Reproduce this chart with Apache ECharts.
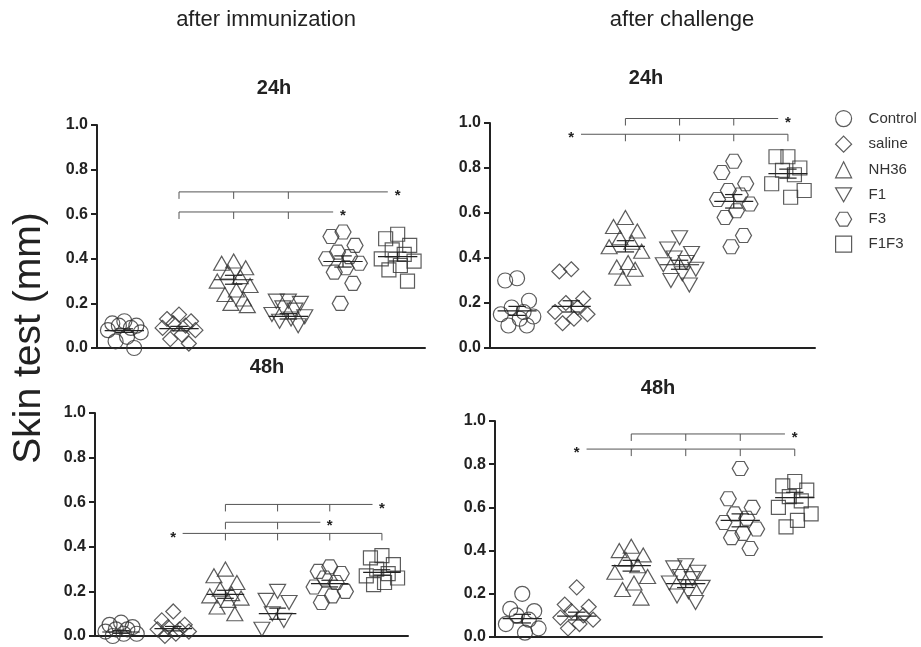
<!DOCTYPE html>
<html>
<head>
<meta charset="utf-8">
<script src="https://cdn.jsdelivr.net/npm/echarts@6/dist/echarts.min.js"></script>
<style>
  html, body { margin: 0; background: #fff; }
  #chart { width: 921px; height: 647px; }
</style>
</head>
<body>
<div id="chart"></div>
<script>
// groups (x categories)
const groups = ['Control', 'saline', 'NH36', 'F1', 'F3', 'F1F3']

// after immunization, 24h
const imm24Values = [
  [0.12, 0.11, 0.10, 0.10, 0.09, 0.08, 0.07, 0.05, 0.03, 0.00],
  [0.15, 0.13, 0.12, 0.11, 0.10, 0.09, 0.08, 0.06, 0.04, 0.02],
  [0.39, 0.38, 0.36, 0.34, 0.32, 0.30, 0.28, 0.26, 0.24, 0.22, 0.20, 0.19],
  [0.21, 0.21, 0.20, 0.18, 0.17, 0.15, 0.14, 0.13, 0.12, 0.10],
  [0.52, 0.50, 0.46, 0.43, 0.41, 0.40, 0.38, 0.36, 0.34, 0.29, 0.20],
  [0.51, 0.49, 0.46, 0.44, 0.42, 0.40, 0.39, 0.37, 0.35, 0.30]
]
const imm24Mean = [0.078, 0.087, 0.306, 0.142, 0.388, 0.41]
const imm24Sem = [0.008, 0.01, 0.02, 0.012, 0.025, 0.02]
// [level, star group, first tick group, last tick group]
const imm24Brackets = [[0.70, 5, 1, 3], [0.61, 4, 1, 3]]

// after challenge, 24h
const cha24Values = [
  [0.31, 0.30, 0.21, 0.18, 0.16, 0.15, 0.14, 0.13, 0.10, 0.10],
  [0.35, 0.34, 0.22, 0.20, 0.18, 0.16, 0.15, 0.13, 0.11],
  [0.58, 0.54, 0.52, 0.49, 0.47, 0.45, 0.43, 0.38, 0.36, 0.35, 0.31],
  [0.49, 0.44, 0.42, 0.40, 0.38, 0.37, 0.35, 0.33, 0.30, 0.28],
  [0.83, 0.78, 0.73, 0.70, 0.68, 0.66, 0.64, 0.61, 0.58, 0.50, 0.45],
  [0.85, 0.85, 0.80, 0.79, 0.77, 0.73, 0.70, 0.67]
]
const cha24Mean = [0.165, 0.185, 0.452, 0.37, 0.652, 0.775]
const cha24Sem = [0.02, 0.025, 0.025, 0.02, 0.03, 0.02]
const cha24Brackets = [[1.02, 5, 2, 4], [0.95, 1, 2, 5]]

// after immunization, 48h
const imm48Values = [
  [0.06, 0.05, 0.04, 0.03, 0.03, 0.02, 0.01, 0.01, 0.00],
  [0.11, 0.07, 0.05, 0.04, 0.03, 0.03, 0.02, 0.01, 0.00],
  [0.30, 0.27, 0.24, 0.21, 0.19, 0.18, 0.17, 0.16, 0.13, 0.10],
  [0.20, 0.16, 0.15, 0.10, 0.07, 0.03],
  [0.31, 0.29, 0.28, 0.26, 0.24, 0.22, 0.20, 0.18, 0.15],
  [0.36, 0.35, 0.32, 0.30, 0.28, 0.27, 0.26, 0.24, 0.23]
]
const imm48Mean = [0.018, 0.033, 0.187, 0.10, 0.235, 0.285]
const imm48Sem = [0.006, 0.01, 0.018, 0.025, 0.015, 0.012]
const imm48Brackets = [[0.59, 5, 2, 4], [0.51, 4, 2, 3], [0.46, 1, 2, 5]]

// after challenge, 48h
const cha48Values = [
  [0.20, 0.13, 0.12, 0.10, 0.08, 0.06, 0.04, 0.02],
  [0.23, 0.15, 0.14, 0.12, 0.10, 0.09, 0.08, 0.06, 0.04],
  [0.42, 0.40, 0.38, 0.36, 0.33, 0.30, 0.28, 0.25, 0.22, 0.18],
  [0.33, 0.32, 0.30, 0.28, 0.27, 0.25, 0.23, 0.21, 0.19, 0.16],
  [0.78, 0.64, 0.60, 0.57, 0.55, 0.53, 0.50, 0.48, 0.46, 0.41],
  [0.72, 0.70, 0.68, 0.65, 0.63, 0.60, 0.57, 0.54, 0.51]
]
const cha48Mean = [0.085, 0.097, 0.33, 0.247, 0.54, 0.645]
const cha48Sem = [0.02, 0.018, 0.025, 0.018, 0.03, 0.025]
const cha48Brackets = [[0.94, 5, 2, 4], [0.87, 1, 2, 5]]

const yTicks = [0, 0.2, 0.4, 0.6, 0.8, 1.0]

const FONT = '"Liberation Sans", Arial, Helvetica, sans-serif'
const INK = '#222'
const HEX = 'path://M25,0 L75,0 L100,43.3 L75,86.6 L25,86.6 L0,43.3 Z'
const DOWN = 'path://M0,0 L100,0 L50,86.6 Z'
const symbols = ['circle', 'diamond', 'triangle', DOWN, HEX, 'rect']
const symbolSizes = [15, 15, [16, 14], [16, 14], [16, 14], 14]
// horizontal spread of points inside a group (beeswarm-like)
const spread = [0, -0.22, 0.22, -0.1, 0.12, -0.3, 0.3, 0.05, -0.16, 0.18, -0.05, 0.25]

const panels = [
  { grid: { left: 97, top: 125, width: 328, height: 223 }, values: imm24Values, mean: imm24Mean, sem: imm24Sem, brackets: imm24Brackets },
  { grid: { left: 490, top: 123, width: 325, height: 225 }, values: cha24Values, mean: cha24Mean, sem: cha24Sem, brackets: cha24Brackets },
  { grid: { left: 95, top: 413, width: 313, height: 223 }, values: imm48Values, mean: imm48Mean, sem: imm48Sem, brackets: imm48Brackets },
  { grid: { left: 495, top: 421, width: 327, height: 216 }, values: cha48Values, mean: cha48Mean, sem: cha48Sem, brackets: cha48Brackets }
]

function renderMean(params, api) {
  const g = api.value(0), m = api.value(1), s = api.value(2)
  const a = api.coord([g - 0.36, m]), b = api.coord([g + 0.36, m])
  const top = api.coord([g, m + s]), bot = api.coord([g, m - s])
  const cl = api.coord([g - 0.16, m]), cr = api.coord([g + 0.16, m])
  const st = { stroke: INK, lineWidth: 1.2 }
  return {
    type: 'group',
    children: [
      { type: 'line', shape: { x1: a[0], y1: a[1], x2: b[0], y2: b[1] }, style: st },
      { type: 'line', shape: { x1: top[0], y1: top[1], x2: bot[0], y2: bot[1] }, style: st },
      { type: 'line', shape: { x1: cl[0], y1: top[1], x2: cr[0], y2: top[1] }, style: st },
      { type: 'line', shape: { x1: cl[0], y1: bot[1], x2: cr[0], y2: bot[1] }, style: st }
    ]
  }
}

function renderBracket(params, api) {
  const y = api.value(0), star = api.value(1), first = api.value(2), last = api.value(3)
  const from = star < first ? star + 0.18 : first
  const to = star > last ? star - 0.18 : last
  const p1 = api.coord([from, y]), p2 = api.coord([to, y])
  const st = { stroke: '#555', lineWidth: 1 }
  const children = [{ type: 'line', shape: { x1: p1[0], y1: p1[1], x2: p2[0], y2: p2[1] }, style: st }]
  for (let k = first; k <= last; k++) {
    const p = api.coord([k, y])
    children.push({ type: 'line', shape: { x1: p[0], y1: p[1], x2: p[0], y2: p[1] + 7 }, style: st })
  }
  const s = api.coord([star, y])
  children.push({
    type: 'text', x: s[0], y: s[1] + 4,
    style: { text: '*', font: 'bold 15px ' + FONT, fill: INK, align: 'center', verticalAlign: 'middle' }
  })
  return { type: 'group', children: children }
}

let grids = [], xAxes = [], yAxes = [], series = []
panels.forEach((p, i) => {
  grids.push(p.grid)
  xAxes.push({
    gridIndex: i, type: 'category', data: groups,
    axisLine: { onZero: false, lineStyle: { color: INK, width: 2 } },
    axisTick: { alignWithLabel: true, length: 6, lineStyle: { color: INK, width: 2 } },
    axisLabel: { show: false }
  })
  xAxes.push({ gridIndex: i, type: 'value', min: -0.5, max: 5.5, show: false })
  yAxes.push({
    gridIndex: i, type: 'value', min: yTicks[0], max: yTicks[yTicks.length - 1], interval: 0.2,
    axisLine: { show: true, onZero: false, lineStyle: { color: INK, width: 2 } },
    axisTick: { show: true, length: 6, lineStyle: { color: INK, width: 2 } },
    axisLabel: { formatter: v => v.toFixed(1), fontFamily: FONT, fontWeight: 'bold', fontSize: 16, color: INK, margin: 9 },
    splitLine: { show: false }
  })
  p.values.forEach((vals, g) => {
    series.push({
      name: groups[g], type: 'scatter', xAxisIndex: 2 * i + 1, yAxisIndex: i,
      symbol: symbols[g], symbolSize: symbolSizes[g],
      itemStyle: { color: 'transparent', borderColor: '#333', borderWidth: 1.2 },
      data: vals.map((v, k) => [g + spread[k % spread.length], v])
    })
  })
  series.push({
    type: 'custom', xAxisIndex: 2 * i + 1, yAxisIndex: i, z: 5,
    renderItem: renderMean,
    data: p.mean.map((m, g) => [g, m, p.sem[g]])
  })
  series.push({
    type: 'custom', xAxisIndex: 2 * i + 1, yAxisIndex: i, z: 5,
    renderItem: renderBracket,
    data: p.brackets
  })
})

function label(text, x, y, font, rot) {
  return {
    type: 'text', x: x, y: y, rotation: rot || 0,
    style: { text: text, font: font, fill: INK, align: 'center', verticalAlign: 'middle' }
  }
}

const myChart = echarts.init(document.getElementById('chart'))
myChart.setOption({
  animation: false,
  backgroundColor: '#fff',
  textStyle: { fontFamily: FONT },
  grid: grids,
  xAxis: xAxes,
  yAxis: yAxes,
  legend: {
    data: groups.map((g, k) => ({ name: g, icon: symbols[k] })),
    orient: 'vertical', left: 835, top: 110, padding: 0,
    itemWidth: 16, itemHeight: 16, itemGap: 8.4, selectedMode: false,
    itemStyle: { color: 'transparent', borderColor: '#333', borderWidth: 1.2 },
    textStyle: { fontSize: 15, lineHeight: 16, color: '#333', fontFamily: FONT, padding: [0, 0, 0, 12] }
  },
  graphic: [
    label('after immunization', 266, 20, '22px ' + FONT),
    label('after challenge', 682, 20, '22px ' + FONT),
    label('24h', 274, 88, 'bold 20px ' + FONT),
    label('24h', 646, 78, 'bold 20px ' + FONT),
    label('48h', 267, 367, 'bold 20px ' + FONT),
    label('48h', 658, 388, 'bold 20px ' + FONT),
    label('Skin test (mm)', 29, 338, '39px ' + FONT, Math.PI / 2)
  ],
  series: series
})
</script>
</body>
</html>
